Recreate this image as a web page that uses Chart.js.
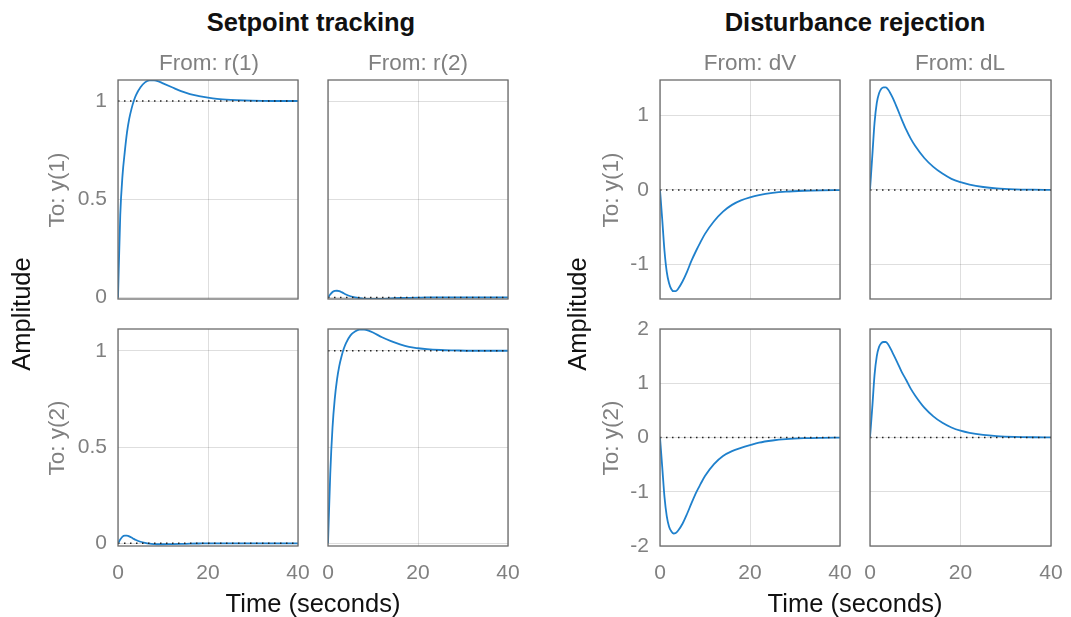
<!DOCTYPE html>
<html>
<head>
<meta charset="utf-8">
<script src="https://cdn.jsdelivr.net/npm/chart.js@4.4.1/dist/chart.umd.min.js"></script>
<style>
  html, body { margin: 0; padding: 0; background: #fff; }
  #page { position: relative; width: 1071px; height: 617px; overflow: hidden; font-family: "Liberation Sans", Arial, sans-serif; }
  #page canvas { position: absolute; }
  .lbl { position: absolute; white-space: nowrap; line-height: 1; transform: translate(-50%, -50%); }
  .rot { transform: translate(-50%, -50%) rotate(-90deg); }
</style>
</head>
<body>
<div id="page"></div>
<script>
// time axis (seconds), shared by all responses
var timeSec = [0, 0.5, 1, 1.5, 2, 2.5, 3, 3.5, 4, 5, 6, 7, 8, 9, 10, 12, 14, 16, 18, 20, 22, 25, 28, 32, 36, 40];

// setpoint tracking
var r1ToY1 = [0, 0.42, 0.62, 0.74, 0.84, 0.91, 0.96, 1.0, 1.03, 1.07, 1.095, 1.105, 1.105, 1.1, 1.09, 1.07, 1.05, 1.035, 1.025, 1.017, 1.011, 1.006, 1.003, 1.001, 1.0, 1.0];
var r2ToY1 = [0, 0.015, 0.028, 0.033, 0.034, 0.032, 0.027, 0.021, 0.015, 0.006, 0, -0.004, -0.007, -0.008, -0.008, -0.007, -0.005, -0.003, -0.002, -0.001, 0, 0, 0, 0, 0, 0];
var r1ToY2 = [0, 0.02, 0.035, 0.04, 0.04, 0.036, 0.03, 0.023, 0.017, 0.008, 0.002, -0.002, -0.004, -0.005, -0.005, -0.004, -0.003, -0.002, -0.001, 0, 0, 0, 0, 0, 0, 0];
var r2ToY2 = [0, 0.36, 0.6, 0.75, 0.85, 0.92, 0.97, 1.01, 1.04, 1.08, 1.1, 1.11, 1.11, 1.105, 1.095, 1.07, 1.05, 1.033, 1.02, 1.013, 1.008, 1.004, 1.002, 1.0, 1.0, 1.0];

// disturbance rejection
var dVToY1 = [0, -0.4, -0.82, -1.1, -1.25, -1.33, -1.36, -1.36, -1.33, -1.23, -1.1, -0.95, -0.82, -0.7, -0.59, -0.42, -0.29, -0.2, -0.14, -0.1, -0.07, -0.04, -0.022, -0.01, -0.004, -0.002];
var dLToY1 = [0, 0.45, 0.9, 1.17, 1.3, 1.36, 1.38, 1.38, 1.35, 1.24, 1.1, 0.95, 0.81, 0.69, 0.59, 0.43, 0.31, 0.22, 0.15, 0.105, 0.072, 0.04, 0.021, 0.009, 0.004, 0.002];
var dVToY2 = [0, -0.55, -1.1, -1.45, -1.64, -1.73, -1.77, -1.76, -1.72, -1.59, -1.41, -1.21, -1.02, -0.86, -0.71, -0.49, -0.34, -0.25, -0.19, -0.14, -0.095, -0.055, -0.03, -0.013, -0.006, -0.003];
var dLToY2 = [0, 0.55, 1.15, 1.5, 1.67, 1.74, 1.76, 1.76, 1.72, 1.56, 1.39, 1.21, 1.06, 0.9, 0.77, 0.55, 0.39, 0.27, 0.185, 0.125, 0.085, 0.048, 0.027, 0.012, 0.005, 0.002];

// steady-state reference levels (dotted lines)
var trackFinal = [1, 0, 0, 1];
var rejectFinal = [0, 0, 0, 0];

// tick labels
var xTicks = [0, 20, 40];
var trackYTicks = [0, 0.5, 1];
var rejectTopYTicks = [-1, 0, 1];
var rejectBottomYTicks = [-2, -1, 0, 1, 2];

var groupTitles = ["Setpoint tracking", "Disturbance rejection"];
var trackInputs = ["From: r(1)", "From: r(2)"];
var rejectInputs = ["From: dV", "From: dL"];
var outputNames = ["To: y(1)", "To: y(2)"];

var lineBlue = "#1f80cc";
var frameColor = "#6b6b6b";
var gridColor = "rgba(0,0,0,0.13)";
var tickGray = "#808080";

var page = document.getElementById("page");

var framePlugin = {
  id: "frame",
  afterDraw: function (chart) {
    var a = chart.chartArea;
    var ctx = chart.ctx;
    ctx.save();
    ctx.strokeStyle = frameColor;
    ctx.lineWidth = 1.3;
    ctx.strokeRect(a.left, a.top, a.right - a.left, a.bottom - a.top);
    ctx.restore();
  }
};

function zeroPad(s) {
  s.paddingLeft = 0;
  s.paddingRight = 0;
  s.paddingTop = 0;
  s.paddingBottom = 0;
}

function makePanel(p) {
  var padL = 60, padT = 16, padR = 18, padB = 50;
  var c = document.createElement("canvas");
  c.width = p.box[2] + padL + padR;
  c.height = p.box[3] + padT + padB;
  c.style.left = (p.box[0] - padL) + "px";
  c.style.top = (p.box[1] - padT) + "px";
  page.appendChild(c);

  var curve = [];
  for (var i = 0; i < timeSec.length; i++) {
    curve.push({ x: timeSec[i], y: p.series[i] });
  }
  var ref = [
    { x: timeSec[0], y: p.final },
    { x: timeSec[timeSec.length - 1], y: p.final }
  ];

  return new Chart(c, {
    type: "line",
    data: {
      datasets: [
        { data: ref, borderColor: "#222", borderWidth: 1.5, borderDash: [1.5, 4.5], pointRadius: 0, order: 0 },
        { data: curve, borderColor: lineBlue, borderWidth: 1.8, pointRadius: 0, cubicInterpolationMode: "monotone", order: 1 }
      ]
    },
    options: {
      responsive: false,
      animation: false,
      events: [],
      layout: { padding: { left: 0, top: padT, right: padR, bottom: 0 } },
      plugins: { legend: { display: false }, tooltip: { enabled: false } },
      scales: {
        x: {
          type: "linear",
          min: 0,
          max: 40,
          afterBuildTicks: function (s) { s.ticks = xTicks.map(function (v) { return { value: v }; }); },
          afterFit: function (s) { s.height = padB; zeroPad(s); },
          grid: { color: gridColor, drawTicks: false },
          border: { display: false },
          ticks: {
            display: p.showX,
            padding: 15,
            color: tickGray,
            font: { family: "Liberation Sans", size: 21 },
            maxRotation: 0,
            callback: function (v) { return String(v); }
          }
        },
        y: {
          type: "linear",
          min: p.yMin,
          max: p.yMax,
          afterBuildTicks: function (s) { s.ticks = p.yTicks.map(function (v) { return { value: v }; }); },
          afterFit: function (s) { s.width = padL; zeroPad(s); },
          grid: { color: gridColor, drawTicks: false },
          border: { display: false },
          ticks: {
            display: p.showY,
            padding: 11,
            color: tickGray,
            font: { family: "Liberation Sans", size: 21 },
            callback: function (v) { return String(v); }
          }
        }
      }
    },
    plugins: [framePlugin]
  });
}

var panels = [
  { series: r1ToY1, final: trackFinal[0], yMin: -0.008, yMax: 1.107, yTicks: trackYTicks, box: [118, 80, 180, 219], showX: false, showY: true },
  { series: r2ToY1, final: trackFinal[1], yMin: -0.008, yMax: 1.107, yTicks: trackYTicks, box: [328, 80, 180, 219], showX: false, showY: false },
  { series: r1ToY2, final: trackFinal[2], yMin: -0.014, yMax: 1.113, yTicks: trackYTicks, box: [118, 329, 180, 217], showX: true, showY: true },
  { series: r2ToY2, final: trackFinal[3], yMin: -0.014, yMax: 1.113, yTicks: trackYTicks, box: [328, 329, 180, 217], showX: true, showY: false },
  { series: dVToY1, final: rejectFinal[0], yMin: -1.465, yMax: 1.478, yTicks: rejectTopYTicks, box: [660, 80, 180, 219], showX: false, showY: true },
  { series: dLToY1, final: rejectFinal[1], yMin: -1.465, yMax: 1.478, yTicks: rejectTopYTicks, box: [870, 80, 181, 219], showX: false, showY: false },
  { series: dVToY2, final: rejectFinal[2], yMin: -2, yMax: 2, yTicks: rejectBottomYTicks, box: [660, 329, 180, 217], showX: true, showY: true },
  { series: dLToY2, final: rejectFinal[3], yMin: -2, yMax: 2, yTicks: rejectBottomYTicks, box: [870, 329, 181, 217], showX: true, showY: false }
];

panels.forEach(makePanel);

function addText(text, x, y, css, rotate) {
  var d = document.createElement("div");
  d.className = rotate ? "lbl rot" : "lbl";
  d.textContent = text;
  d.style.left = x + "px";
  d.style.top = y + "px";
  for (var k in css) d.style[k] = css[k];
  page.appendChild(d);
}

var titleCss = { fontSize: "25.5px", fontWeight: "bold", color: "#111" };
var labelCss = { fontSize: "25.5px", color: "#111" };
var subCss = { fontSize: "22.5px", color: tickGray };

addText(groupTitles[0], 311, 23, titleCss);
addText(groupTitles[1], 855, 23, titleCss);

addText(trackInputs[0], 209, 63, subCss);
addText(trackInputs[1], 418, 63, subCss);
addText(rejectInputs[0], 750, 63, subCss);
addText(rejectInputs[1], 960, 63, subCss);

addText(outputNames[0], 57, 190, subCss, true);
addText(outputNames[1], 57, 438, subCss, true);
addText(outputNames[0], 611, 190, subCss, true);
addText(outputNames[1], 611, 438, subCss, true);

addText("Amplitude", 22, 314, labelCss, true);
addText("Amplitude", 578, 314, labelCss, true);
addText("Time (seconds)", 313, 604, labelCss);
addText("Time (seconds)", 855, 604, labelCss);
</script>
</body>
</html>
